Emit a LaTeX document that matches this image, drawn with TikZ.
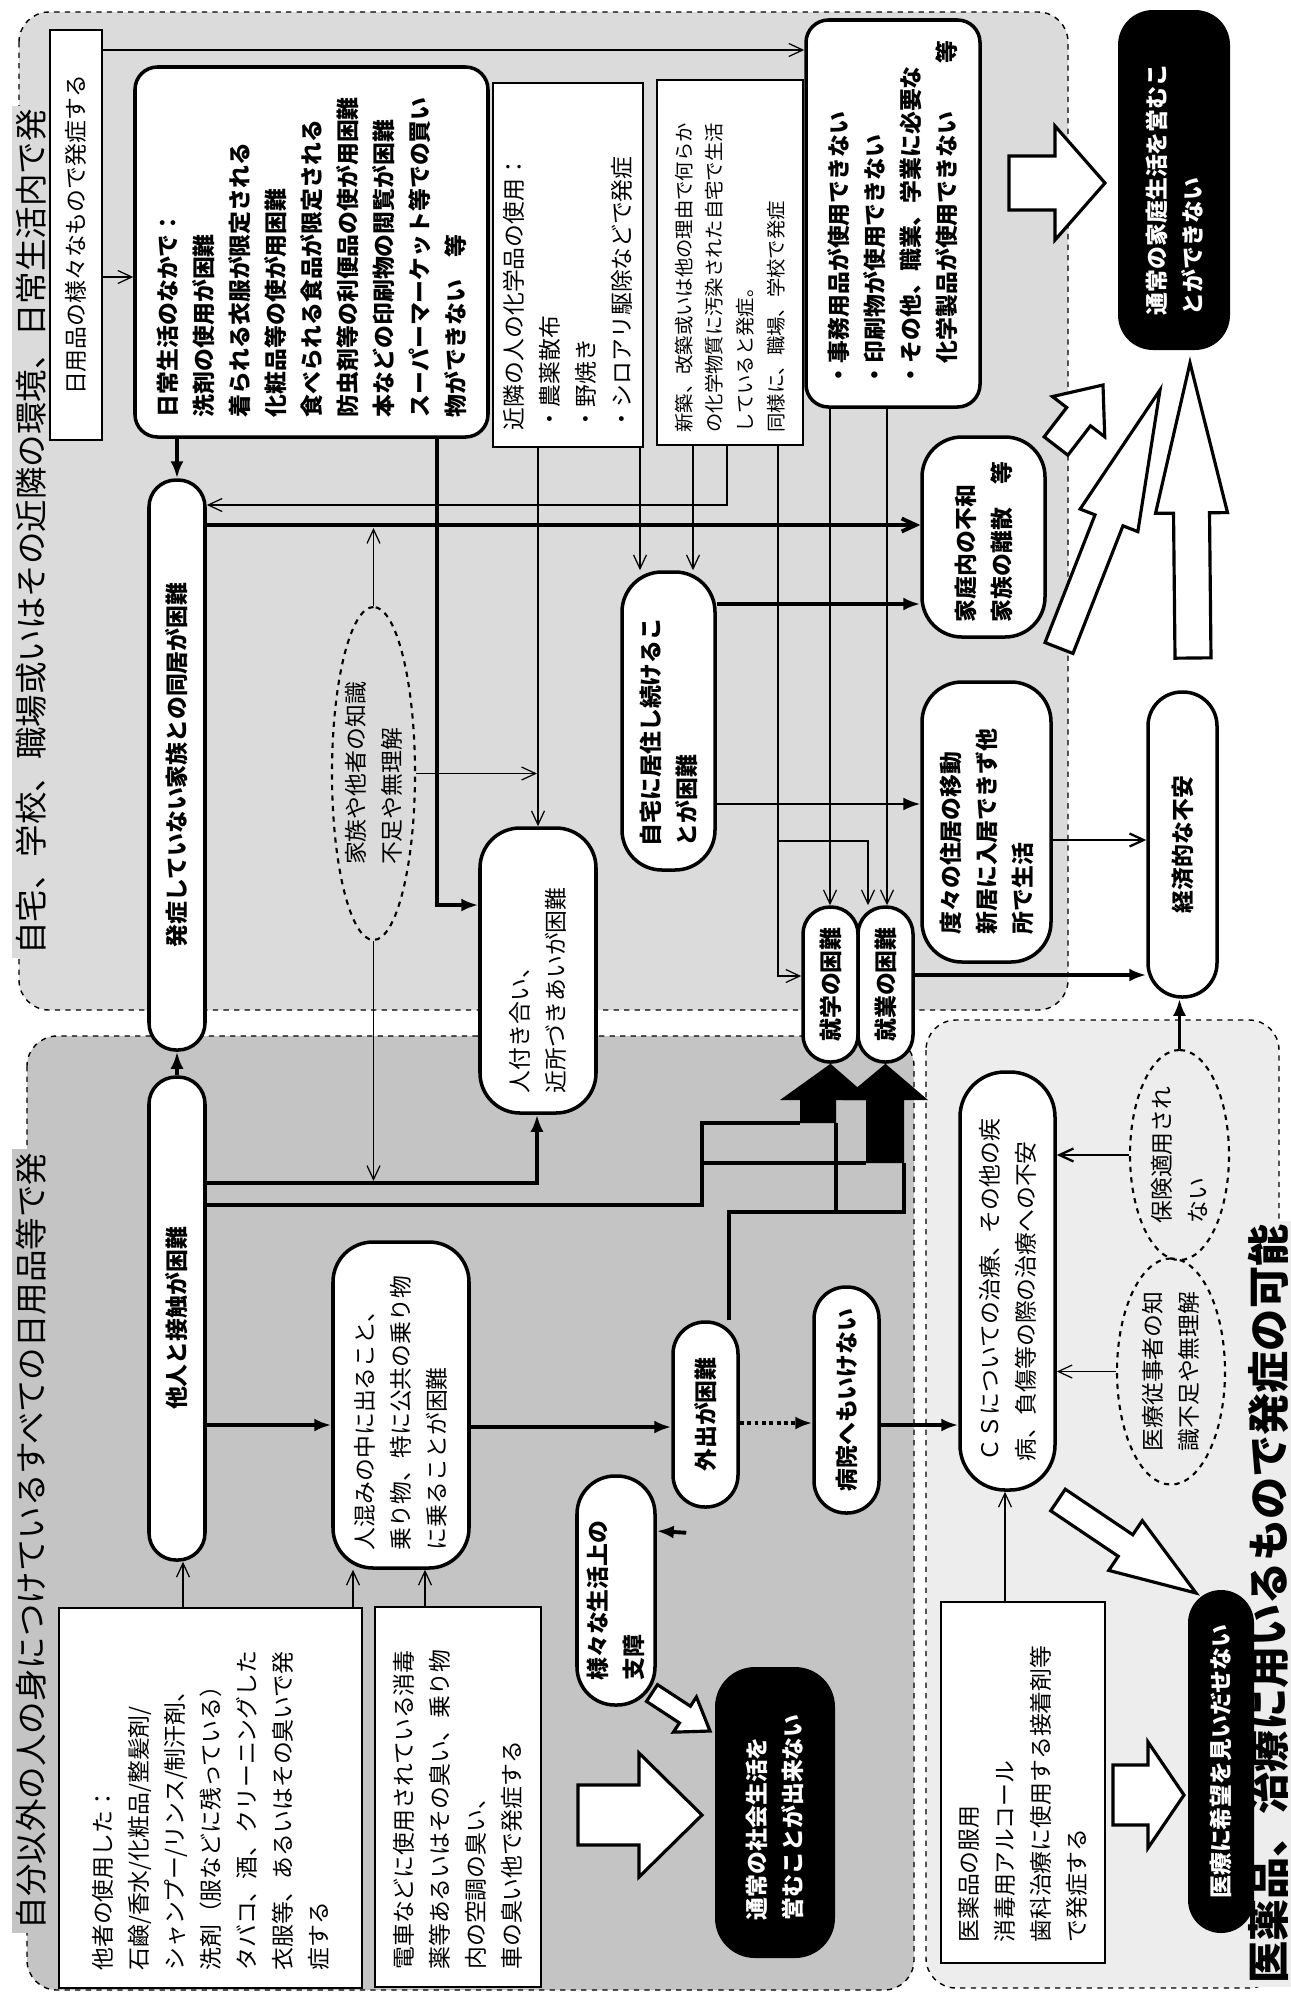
\documentclass[tikz,border=0pt]{standalone}
\usepackage{fontspec}
\setmainfont{Noto Sans CJK JP}
\usetikzlibrary{arrows.meta, calc, shapes.geometric}

\definecolor{rhome}{gray}{0.86}
\definecolor{rother}{gray}{0.77}
\definecolor{rmed}{gray}{0.93}

\newcommand{\pxu}{0.02cm}
\newcommand{\bodyfont}{\fontsize{13}{20.5}\selectfont}
\newcommand{\smallfont}{\fontsize{11}{17.5}\selectfont}
\newcommand{\titlefont}{\fontsize{18.5}{20}\selectfont}
\newcommand{\bigtitlefont}{\fontsize{24}{26}\selectfont\bfseries}

% outline arrow: tail, tip, shaft half width, head half width, head length
\newcommand{\fatarrow}[5]{%
  \coordinate (fah) at ($(#2)!#5!(#1)$);
  \draw[fatarr] ($(#1)!#3!90:(#2)$) -- ($(fah)!#3!-90:(#1)$) -- ($(fah)!#4!-90:(#1)$) -- (#2)
    -- ($(fah)!#4!90:(#1)$) -- ($(fah)!#3!90:(#1)$) -- ($(#1)!#3!-90:(#2)$) -- cycle;}

\tikzset{
  nd/.style={rotate=90, inner sep=0pt, font=\bodyfont},
  plain/.style={nd, draw, line width=0.8pt, fill=white},
  rbox/.style={nd, draw, line width=2pt, fill=white},
  bld/.style={font=\bodyfont\bfseries},
  blk/.style={nd, fill=black, text=white, font=\bodyfont\bfseries},
  oval/.style={nd, ellipse, draw, dashed, line width=1.2pt},
  region/.style={draw, dashed, line width=0.8pt, rounded corners=0.6cm},
  thk/.style={line width=2.2pt},
  med/.style={line width=1.3pt},
  thn/.style={line width=0.7pt},
  fillhead/.style={-{Latex[length=0.34cm,width=0.26cm]}},
  openhead/.style={-{Straight Barb[length=0.28cm,width=0.26cm]}},
  fatarr/.style={draw, fill=white, line width=1.8pt},
}

\begin{document}
\begin{tikzpicture}[x=0.02cm, y=-0.02cm]
\useasboundingbox (0,0) rectangle (1291,1995);

% regions
\draw[region, fill=rhome] (19,12) rectangle (1068,1010);
\draw[region, fill=rother] (27,1036) rectangle (914,1990);
\draw[region, fill=rmed] (926,1020) rectangle (1279,1988);

\node[nd, font=\titlefont, fill=rhome, inner sep=2pt] (T1) at (31,532) {自宅、学校、職場或いはその近隣の環境、日常生活内で発};
\node[nd, font=\titlefont, fill=rother, inner sep=2pt] (T2) at (31,1541) {自分以外の人の身につけているすべての日用品等で発};
\node[nd, font=\bigtitlefont, fill=rmed, inner sep=2pt] (T3) at (1268,1604) {医薬品、治療に用いるもので発症の可能};

% home, school, work
\node[plain, minimum width=410*\pxu, minimum height=52*\pxu] (A) at (76,235) {日用品の様々なもので発症する};
\node[rbox, bld, rounded corners=0.45cm, minimum width=370*\pxu, minimum height=353*\pxu, text width=330*\pxu, align=left] (B) at (311.5,252)
  {日常生活のなかで：\\洗剤の使用が困難\\着られる衣服が限定される\\化粧品等の使が用困難\\食べられる食品が限定される\\防虫剤等の利便品の使が用困難\\本などの印刷物の閲覧が困難\\スーパーマーケット等での買い\\物ができない　等};
\node[plain, minimum width=364*\pxu, minimum height=150*\pxu, text width=330*\pxu, align=left] (K) at (568,265)
  {近隣の人の化学品の使用：\\・農薬散布\\・野焼き\\・シロアリ駆除などで発症};
\node[plain, font=\smallfont, minimum width=365*\pxu, minimum height=146*\pxu, text width=340*\pxu, align=left] (N) at (730,262.5)
  {新築、改築或いは他の理由で何らか\\の化学物質に汚染された自宅で生活\\していると発症。\\同様に、職場、学校で発症};
\node[rbox, bld, rounded corners=0.45cm, minimum width=387*\pxu, minimum height=174*\pxu, text width=345*\pxu, align=left] (P) at (893,213.5)
  {・事務用品が使用できない\\・印刷物が使用できない\\・その他、職業、学業に必要な\\\phantom{・}化学製品が使用できない\hfill 等};
\node[blk, rounded corners=0.7cm, minimum width=340*\pxu, minimum height=112*\pxu, text width=270*\pxu, align=left] (HB) at (1174,180)
  {通常の家庭生活を営むこ\\とができない};

\node[rbox, bld, rounded corners=0.54cm, minimum width=570*\pxu, minimum height=56*\pxu] (C) at (177,765) {発症していない家族との同居が困難};
\node[oval, minimum width=333*\pxu, minimum height=83*\pxu, align=left] (E1) at (373.5,773.5) {家族や他者の知識\\不足や無理解};
\node[rbox, rounded corners=0.8cm, minimum width=285*\pxu, minimum height=116*\pxu, text width=245*\pxu, align=left] (TK) at (538,970.5)
  {人付き合い、\\近所づきあいが困難};
\node[rbox, bld, rounded corners=0.8cm, minimum width=298*\pxu, minimum height=93*\pxu, text width=250*\pxu, align=left] (JT) at (668.5,721)
  {自宅に居住し続けるこ\\とが困難};
\node[rbox, bld, rounded corners=0.8cm, minimum width=200*\pxu, minimum height=123*\pxu, text width=170*\pxu, align=left] (KT) at (983.5,537)
  {家庭内の不和\\家族の離散　等};
\node[rbox, bld, rounded corners=0.8cm, minimum width=280*\pxu, minimum height=129*\pxu, text width=225*\pxu, align=left] (TD) at (986.5,822)
  {度々の住居の移動\\新居に入居できず他\\所で生活};
\node[rbox, bld, rounded corners=0.68cm, minimum width=305*\pxu, minimum height=69*\pxu] (KZ) at (1182.5,844.5) {経済的な不安};
\node[rbox, bld, rounded corners=0.54cm, minimum width=155*\pxu, minimum height=55*\pxu] (SG) at (830.5,984.5) {就学の困難};
\node[rbox, bld, rounded corners=0.54cm, minimum width=155*\pxu, minimum height=55*\pxu] (SY) at (885.5,984.5) {就業の困難};

% other people's things
\node[rbox, bld, rounded corners=0.54cm, minimum width=483*\pxu, minimum height=56*\pxu] (D) at (177,1318.5) {他人と接触が困難};
\node[rbox, rounded corners=0.8cm, minimum width=326*\pxu, minimum height=136*\pxu, text width=290*\pxu, align=left] (G) at (401,1405)
  {人混みの中に出ること、\\乗り物、特に公共の乗り物\\に乗ることが困難};
\node[rbox, bld, rounded corners=0.64cm, minimum width=185*\pxu, minimum height=65*\pxu] (GS) at (705.5,1414.5) {外出が困難};
\node[rbox, bld, rounded corners=0.64cm, minimum width=226*\pxu, minimum height=65*\pxu] (BY) at (846.5,1400) {病院へもいけない};
\node[plain, minimum width=380*\pxu, minimum height=303*\pxu, text width=345*\pxu, align=left] (E) at (210.5,1798)
  {他者の使用した：\\石鹸/香水/化粧品/整髪剤/\\シャンプー/リンス/制汗剤、\\洗剤（服などに残っている）\\タバコ、酒、クリーニングした\\衣服等、あるいはその臭いで発\\症する};
\node[plain, minimum width=380*\pxu, minimum height=166*\pxu, text width=345*\pxu, align=left] (F) at (458,1797)
  {電車などに使用されている消毒\\薬等あるいはその臭い、乗り物\\内の空調の臭い、\\車の臭い他で発症する};
\node[rbox, bld, rounded corners=0.76cm, minimum width=229*\pxu, minimum height=78*\pxu, text width=180*\pxu, align=left] (SM) at (616,1590.5)
  {様々な生活上の\\支障};
\node[blk, rounded corners=0.8cm, minimum width=291*\pxu, minimum height=120*\pxu, text width=215*\pxu, align=left] (SK) at (775,1812.5)
  {通常の社会生活を\\営むことが出来ない};

% medicine
\node[rbox, rounded corners=0.9cm, minimum width=418*\pxu, minimum height=95*\pxu, text width=360*\pxu, align=left] (CS) at (1007.5,1281)
  {ＣＳについての治療、その他の疾\\病、負傷等の際の治療への不安};
\node[oval, minimum width=210*\pxu, minimum height=99*\pxu, align=left] (HK) at (1179.5,1155) {保険適用され\\ない};
\node[oval, minimum width=217*\pxu, minimum height=108*\pxu, align=left] (IJ) at (1171,1371.5) {医療従事者の知\\識不足や無理解};
\node[plain, minimum width=361*\pxu, minimum height=164*\pxu, text width=320*\pxu, align=left] (M) at (1023,1782.5)
  {医薬品の服用\\消毒用アルコール\\歯科治療に使用する接着剤等\\で発症する};
\node[blk, rounded corners=0.66cm, minimum width=343*\pxu, minimum height=66*\pxu] (IB) at (1221,1761.5) {医療に希望を見いだせない};

% connectors, upper region
\draw[thn,openhead] (A.south |- 0,50) -- (P.north |- 0,50);
\draw[thn,openhead] (A.south |- 0,277) -- (B.north |- 0,277);
\draw[thk,fillhead] (C.east |- B.west) -- (C.east);
\draw[thk,fillhead] (B.west -| 437,0) |- (TK.north |- 0,905);
\draw[thn,openhead] (N.west -| 727,0) |- (C.south |- 0,505);
\draw[thk,openhead] (C.south |- 0,525) -- (KT.north |- 0,525);
\draw[thn,openhead] (K.west -| 538,0) -- (TK.east -| 538,0);
\draw[thn,openhead] (K.west -| 640,0) -- (JT.east -| 640,0);
\draw[thn,openhead] (N.west -| 693,0) -- (JT.east -| 693,0);
\draw[thn,openhead] (N.west -| 778,0) |- (SG.north |- 0,976);
\coordinate (nsplit) at (778,841);
\draw[thn,openhead] (nsplit) -| (SY.east -| 868,0);
\draw[thn,openhead] (P.west -| 830,0) -- (SG.east -| 830,0);
\draw[thn,openhead] (P.west -| 887,0) -- (SY.east -| 887,0);
\draw[thn,openhead] (E1.east) -- (E1.east |- 0,528);
\draw[thn,openhead] (E1.south) -- (E1.south -| 537,0);
\draw[thn,openhead] (E1.west) -- (E1.west |- 0,1181);
\draw[thk,fillhead] (JT.south |- 0,604) -- (KT.north |- 0,604);
\draw[med,fillhead] (JT.south |- 0,804) -- (TD.north |- 0,804);
\draw[med,openhead] (TD.south |- 0,840) -- (KZ.north |- 0,840);
\draw[thk,fillhead] (SY.south |- 0,975) -- (KZ.north |- 0,975);
\draw[thk,fillhead] (HK.east) -- (KZ.west -| HK.east);

% connectors, left region
\draw[thk,fillhead] (D.east) -- (C.west);
\draw[thk,fillhead] (D.south |- 0,1183) -| (TK.west -| 537,0);
\draw[thk] (D.south |- 0,1205) -| (702,1123) -- (800,1123);
\draw[thk] (702,1163) -- (866,1163);
\draw[thk] (GS.east -| 729,0) |- (904,1212) -- (904,1163);
\draw[thk] (836,1212) -- (836,1123);
\fill (800,1123) -- (800,1100) -- (780,1100) -- (SG.west) -- (872,1100) -- (836,1100) -- (836,1123) -- cycle;
\fill (866,1163) -- (866,1100) -- (842,1100) -- (SY.west) -- (928,1100) -- (904,1100) -- (904,1163) -- cycle;
\draw[thk,fillhead] (D.south |- 0,1425) -- (G.north |- 0,1425);
\draw[thn,openhead] (E.east -| 183,0) -- (D.west -| 183,0);
\draw[thn,openhead] (E.east -| 353,0) -- (G.west -| 353,0);
\draw[thn,openhead] (F.east -| 425,0) -- (G.west -| 425,0);
\draw[thk,fillhead] (G.south |- 0,1427) -- (GS.north |- 0,1427);
\draw[thk,dotted,fillhead] (GS.south |- 0,1423) -- (BY.north |- 0,1423);
\draw[thk,fillhead] (BY.south |- 0,1425) -- (CS.north |- 0,1425);
\draw[thk,fillhead] (GS.north west) ++(15,24) -- (SM.south |- 0,1531);

% connectors, medicine region
\draw[med,openhead] (HK.north) -- (CS.south |- HK.north);
\draw[thn,openhead] (IJ.north) -- (CS.south |- IJ.north);
\draw[thn,openhead] (M.east -| 1005,0) -- (CS.west -| 1005,0);

% outline arrows
\coordinate (fa1) at (1009,183);  \coordinate (fb1) at (1105,183);
\coordinate (fa2) at (1056,446);  \coordinate (fb2) at (1103,385);
\coordinate (fa3) at (1059,648);  \coordinate (fb3) at (1160,390);
\coordinate (fa4) at (1193,658);  \coordinate (fb4) at (1190,363);
\coordinate (fa5) at (578,1815);  \coordinate (fb5) at (702,1815);
\coordinate (fa6) at (652,1693);  \coordinate (fb6) at (710,1731);
\coordinate (fa7) at (1058,1500); \coordinate (fb7) at (1196,1593);
\coordinate (fa8) at (1113,1795); \coordinate (fb8) at (1184,1795);
\fatarrow{fa1}{fb1}{0.54cm}{1.14cm}{1.0cm}
\fatarrow{fa2}{fb2}{0.3cm}{0.66cm}{0.8cm}
\fatarrow{fa3}{fb3}{0.3cm}{0.62cm}{2.8cm}
\fatarrow{fa4}{fb4}{0.36cm}{0.72cm}{3.0cm}
\fatarrow{fa5}{fb5}{0.6cm}{1.24cm}{1.26cm}
\fatarrow{fa6}{fb6}{0.2cm}{0.42cm}{0.6cm}
\fatarrow{fa7}{fb7}{0.26cm}{0.6cm}{1.7cm}
\fatarrow{fa8}{fb8}{0.6cm}{1.06cm}{0.72cm}
\end{tikzpicture}
\end{document}
